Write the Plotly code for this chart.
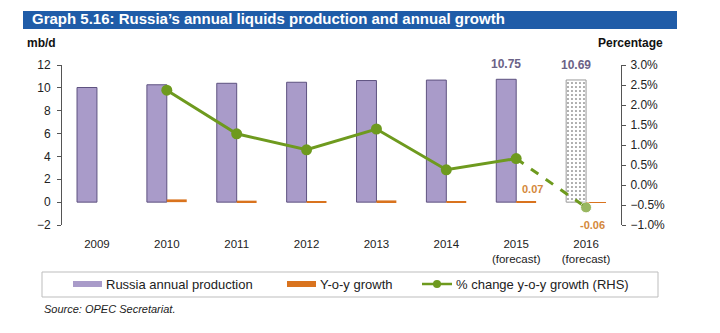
import plotly.graph_objects as go

# ---- data -------------------------------------------------------------
years = ["2009", "2010", "2011", "2012", "2013", "2014", "2015", "2016"]
forecast = [False, False, False, False, False, False, True, True]
production = [10.03, 10.27, 10.40, 10.49, 10.64, 10.68, 10.75, 10.69]   # mb/d
yoy_growth = [None, 0.24, 0.13, 0.09, 0.15, 0.04, 0.07, -0.06]          # mb/d
pct_change = [None, 2.37, 1.28, 0.88, 1.40, 0.38, 0.66, -0.56]          # %
labelled_production = [6, 7]   # indices whose production value is printed
labelled_growth = [6, 7]       # indices whose y-o-y growth value is printed

# ---- styling ----------------------------------------------------------
W, H = 720, 333
L, R, T, B = 62, 621, 65, 225          # plot area in pixels
FONT = "Liberation Sans, Arial, sans-serif"
PURPLE = "#a99bc9"
PURPLE_EDGE = "#5e5280"
ORANGE = "#d9731e"
GREEN = "#6e9a1e"
BLUE = "#1f5ca8"
BARGAP = 0.43


def px(x):
    return (x - L) / (R - L)


def py(y):
    return (B - y) / (B - T)


n = len(years)
xs = list(range(n))
ticktext = [y + ("<br>(forecast)" if f else "") for y, f in zip(years, forecast)]
half = (1 - BARGAP) / 4          # offset of each bar centre inside a group

fig = go.Figure()

# production bars (forecast year drawn with a light dotted fill)
fig.add_trace(go.Bar(
    x=xs, y=production, name="Russia annual production",
    offsetgroup="a",
    marker=dict(
        color=[PURPLE if i < n - 1 else "white" for i in xs],
        line=dict(color=[PURPLE_EDGE if i < n - 1 else "#9a9a9a" for i in xs], width=1),
        pattern=dict(shape=["" if i < n - 1 else "." for i in xs],
                     fillmode="overlay", fgcolor="#cfcfcf", fgopacity=1,
                     size=4, solidity=0.12),
    ),
    showlegend=False,
))

# y-o-y growth bars
fig.add_trace(go.Bar(
    x=xs, y=yoy_growth, name="Y-o-y growth",
    offsetgroup="b",
    marker=dict(color=ORANGE, line=dict(width=0)),
    showlegend=False,
))

# % change line (RHS): actual years solid, forecast step dashed
solid_x = [i for i in xs if pct_change[i] is not None and i <= 6]
fig.add_trace(go.Scatter(
    x=solid_x, y=[pct_change[i] for i in solid_x], yaxis="y2",
    mode="lines+markers", line=dict(color=GREEN, width=3),
    marker=dict(size=11, color=GREEN), showlegend=False,
))
fig.add_trace(go.Scatter(
    x=[6, 7], y=[pct_change[6], pct_change[7]], yaxis="y2",
    mode="lines+markers", line=dict(color=GREEN, width=3, dash="dash"),
    marker=dict(size=[0, 11], color=GREEN), showlegend=False,
))

annotations = []
for i in labelled_production:
    annotations.append(dict(
        x=i - half, y=production[i], xref="x", yref="y", text=f"{production[i]:.2f}",
        showarrow=False, yanchor="bottom", yshift=6,
        font=dict(family=FONT, size=12, color="#6b6287", weight="bold"),
    ))
for i in labelled_growth:
    v = yoy_growth[i]
    annotations.append(dict(
        x=i + half, y=v, xref="x", yref="y", text=f"{v:.2f}",
        showarrow=False, yanchor="bottom" if v >= 0 else "top",
        yshift=4 if v >= 0 else -14, xshift=6 if v >= 0 else -4,
        font=dict(family=FONT, size=11, color="#d4883a", weight="bold"),
    ))

# title band, axis titles, legend and source
annotations += [
    dict(x=px(30), y=py(19), xref="paper", yref="paper", xanchor="left", yanchor="middle",
         text="Graph 5.16: Russia\u2019s annual liquids production and annual growth",
         showarrow=False, font=dict(family=FONT, size=15, color="white", weight="bold")),
    dict(x=px(25), y=py(43), xref="paper", yref="paper", xanchor="left", yanchor="middle",
         text="mb/d", showarrow=False,
         font=dict(family=FONT, size=12, color="#111", weight="bold")),
    dict(x=px(665), y=py(43), xref="paper", yref="paper", xanchor="right", yanchor="middle",
         text="Percentage", showarrow=False,
         font=dict(family=FONT, size=12, color="#111", weight="bold")),
    dict(x=px(42), y=py(309), xref="paper", yref="paper", xanchor="left", yanchor="middle",
         text="<i>Source: OPEC Secretariat.</i>", showarrow=False,
         font=dict(family=FONT, size=11, color="#222")),
]

legend_items = [("Russia annual production", 73, 104, "bar", PURPLE),
                ("Y-o-y growth", 287, 318, "bar", ORANGE),
                ("% change y-o-y growth (RHS)", 422, 454, "line", GREEN)]
LEG_Y = 284
shapes = [
    dict(type="rect", xref="paper", yref="paper", x0=px(23), x1=px(677), y0=py(29), y1=py(11),
         fillcolor=BLUE, line=dict(width=0), layer="below"),
    dict(type="rect", xref="paper", yref="paper", x0=px(42), x1=px(658), y0=py(297), y1=py(272),
         fillcolor="white", line=dict(color="#bdbdbd", width=1)),
]
for label, sx, tx, kind, col in legend_items:
    if kind == "bar":
        shapes.append(dict(type="rect", xref="paper", yref="paper",
                           x0=px(sx), x1=px(sx + 29), y0=py(LEG_Y + 3), y1=py(LEG_Y - 3),
                           fillcolor=col, line=dict(width=0)))
    else:
        shapes.append(dict(type="line", xref="paper", yref="paper",
                           x0=px(sx), x1=px(sx + 30), y0=py(LEG_Y), y1=py(LEG_Y),
                           line=dict(color=col, width=2.5)))
        shapes.append(dict(type="circle", xref="paper", yref="paper",
                           x0=px(sx + 11), x1=px(sx + 19), y0=py(LEG_Y + 4), y1=py(LEG_Y - 4),
                           fillcolor=col, line=dict(width=0)))
    annotations.append(dict(x=px(tx), y=py(LEG_Y), xref="paper", yref="paper",
                            xanchor="left", yanchor="middle", text=label, showarrow=False,
                            font=dict(family=FONT, size=13, color="#222")))

AX = "#555555"
fig.update_layout(
    width=W, height=H,
    margin=dict(l=L, r=W - R, t=T, b=H - B, pad=0),
    paper_bgcolor="white", plot_bgcolor="white",
    font=dict(family=FONT, size=11, color="#222"),
    barmode="group", bargap=BARGAP, bargroupgap=0,
    xaxis=dict(range=[-0.5, n - 0.5], tickvals=xs, ticktext=ticktext,
               showgrid=False, zeroline=False, showline=False,
               ticks="outside", ticklen=0, tickcolor="rgba(0,0,0,0)",
               ticklabelstandoff=8, tickfont=dict(size=11.5, color="#222")),
    xaxis2=dict(overlaying="x", anchor="free", position=2 / 14,
                range=[-0.5, n - 0.5], tickvals=[i + 0.5 for i in xs[:-1]],
                ticks="outside", ticklen=3, tickcolor="#777", showticklabels=False,
                showline=True, linecolor="#9a9a9a", linewidth=1,
                showgrid=False, zeroline=False),
    yaxis=dict(range=[-2, 12], dtick=2, showgrid=False, zeroline=False,
               showline=True, linecolor=AX, linewidth=1,
               ticks="outside", ticklen=4, tickcolor=AX, ticklabelstandoff=4,
               tickfont=dict(size=12, color="#222")),
    yaxis2=dict(range=[-1, 3], dtick=0.5, tickformat=".1f", ticksuffix="%",
                overlaying="y", side="right", showgrid=False, zeroline=False,
                showline=True, linecolor=AX, linewidth=1,
                ticks="outside", ticklen=4, tickcolor=AX, ticklabelstandoff=2,
                tickfont=dict(size=12, color="#222")),
    shapes=shapes, annotations=annotations, showlegend=False,
)

fig.write_html("out.html")
